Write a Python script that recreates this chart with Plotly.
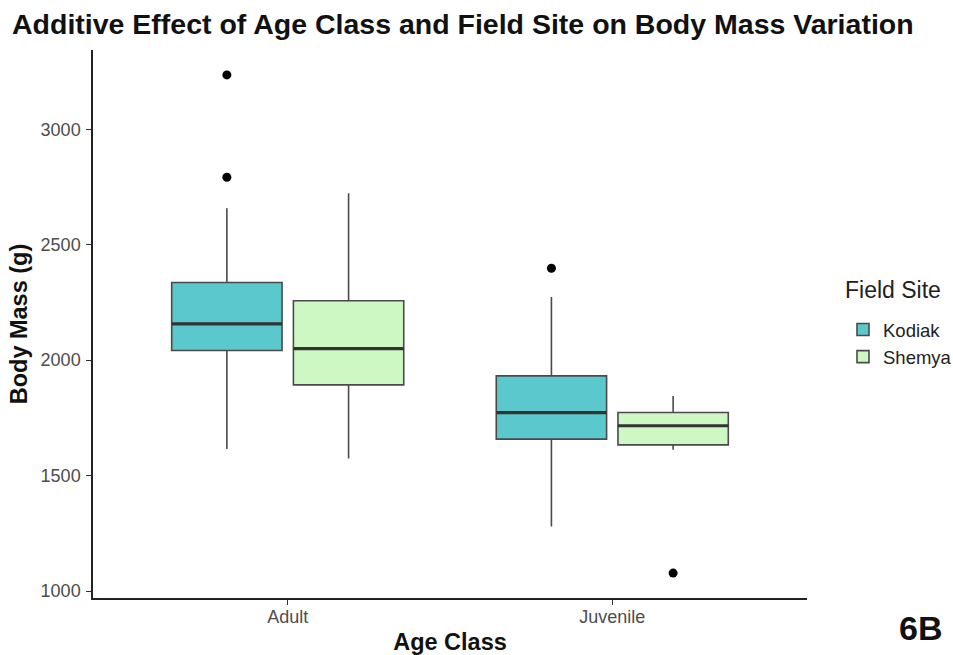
import plotly.graph_objects as go

age_classes = ["Adult", "Juvenile"]
sites = ["Kodiak", "Shemya"]
colors = {"Kodiak": "#5BC8CD", "Shemya": "#CDF8C3"}

# stats per site, ordered as age_classes
q1 = {"Kodiak": [2042, 1658], "Shemya": [1893, 1633]}
median = {"Kodiak": [2157, 1773], "Shemya": [2050, 1716]}
q3 = {"Kodiak": [2336, 1932], "Shemya": [2257, 1773]}
lowerfence = {"Kodiak": [1615, 1280], "Shemya": [1574, 1612]}
upperfence = {"Kodiak": [2658, 2273], "Shemya": [2723, 1845]}
outliers = {"Kodiak": [[3235, 2792], [2398]], "Shemya": [[], [1078]]}
y_ticks = [1000, 1500, 2000, 2500, 3000]

dodge = {"Kodiak": -0.1875, "Shemya": 0.1875}
box_width = 0.34

fig = go.Figure()
for s in sites:
    xs = [i + dodge[s] for i in range(len(age_classes))]
    fig.add_trace(go.Box(
        x=xs, q1=q1[s], median=median[s], q3=q3[s],
        lowerfence=lowerfence[s], upperfence=upperfence[s],
        width=box_width, name=s, fillcolor=colors[s],
        line=dict(color="#4a4a4a", width=1.6), boxpoints=False,
        whiskerwidth=0, legendgroup=s,
    ))
for s in sites:
    for i in range(len(age_classes)):
        c = i + dodge[s]
        fig.add_trace(go.Scatter(
            x=[c - box_width / 2, c + box_width / 2], y=[median[s][i]] * 2,
            mode="lines", line=dict(color="#333333", width=3.2),
            showlegend=False, hoverinfo="skip"))
        if outliers[s][i]:
            fig.add_trace(go.Scatter(
                x=[c] * len(outliers[s][i]), y=outliers[s][i], mode="markers",
                marker=dict(color="black", size=9), showlegend=False))

W, H = 953, 655
L, R, T, B = 93, 146, 50, 57
pw, ph = W - L - R, H - T - B

def px_x(x):  # page pixel -> paper x
    return (x - L) / pw

def px_y(y):  # page pixel -> paper y
    return (T + ph - y) / ph

fig.update_layout(
    width=W, height=H,
    margin=dict(l=L, r=R, t=T, b=B, autoexpand=False),
    paper_bgcolor="white", plot_bgcolor="white",
    font=dict(family="Liberation Sans, Arial, sans-serif", color="#111111"),
    title=dict(text="<b>Additive Effect of Age Class and Field Site on Body Mass Variation</b>",
               x=12 / W, xanchor="left", y=1 - 24 / H, yanchor="middle",
               font=dict(size=28.5, color="#111111")),
    showlegend=True,
    legend=dict(x=px_x(843), xanchor="left", y=px_y(311), yanchor="top",
                font=dict(size=18.5, color="#222222"), tracegroupgap=0,
                bgcolor="rgba(0,0,0,0)"),
    xaxis=dict(range=[-0.6, 1.6], tickvals=[0, 1], ticktext=age_classes,
               showgrid=False, zeroline=False, showline=True, linecolor="#222222",
               linewidth=1.5, ticks="outside", ticklen=5, tickcolor="#333333",
               ticklabelstandoff=-3,
               tickfont=dict(size=18, color="#4d4d4d"), automargin=False,
               title=dict(text="<b>Age Class</b>", font=dict(size=23.5, color="#111111"),
                          standoff=8)),
    yaxis=dict(range=[970, 3343], tickvals=y_ticks,
               showgrid=False, zeroline=False, showline=True, linecolor="#222222",
               linewidth=1.5, ticks="outside", ticklen=5, tickcolor="#333333",
               ticklabelstandoff=2,
               tickfont=dict(size=18, color="#4d4d4d"), automargin=False,
               title=dict(text="<b>Body Mass (g)</b>", font=dict(size=23.5, color="#111111"),
                          standoff=6)),
    annotations=[
        dict(text="<b>6B</b>", x=px_x(920.5), y=px_y(628),
             xref="paper", yref="paper", xanchor="center", yanchor="middle",
             showarrow=False, font=dict(size=34, color="#111111")),
        dict(text="Field Site", x=px_x(843), y=px_y(290),
             xref="paper", yref="paper", xanchor="left", yanchor="middle",
             showarrow=False, font=dict(size=23, color="#222222")),
    ],
)

fig.write_html("out.html", config={"displayModeBar": False},
               post_script="document.body.style.margin='0';document.body.style.padding='0';")
